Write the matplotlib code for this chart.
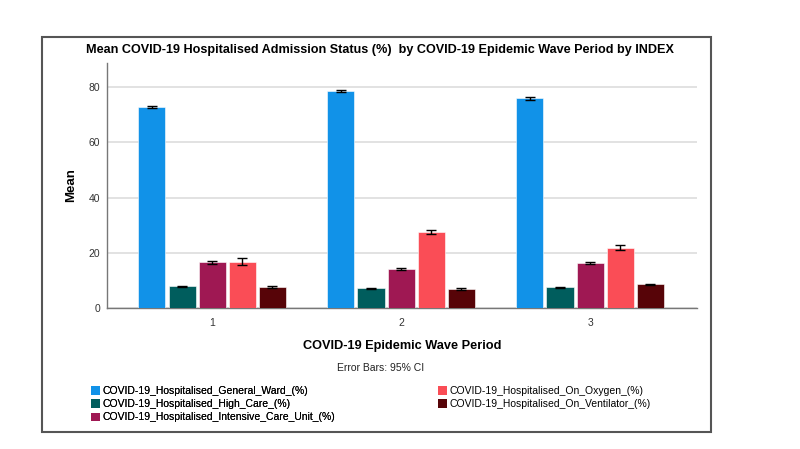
import numpy as np
import matplotlib.pyplot as plt
from matplotlib.patches import Rectangle, Patch

plt.rcParams['font.family'] = ['Liberation Sans', 'DejaVu Sans']

# Data
waves = [1, 2, 3]
series = [
    "COVID-19_Hospitalised_General_Ward_(%)",
    "COVID-19_Hospitalised_High_Care_(%)",
    "COVID-19_Hospitalised_Intensive_Care_Unit_(%)",
    "COVID-19_Hospitalised_On_Oxygen_(%)",
    "COVID-19_Hospitalised_On_Ventilator_(%)",
]
general_ward = [72.8, 78.6, 75.9]
high_care = [7.8, 7.2, 7.5]
icu = [16.5, 14.0, 16.2]
oxygen = [16.8, 27.6, 21.8]
ventilator = [7.7, 6.8, 8.6]

general_ward_ci = [0.5, 0.5, 0.5]
high_care_ci = [0.3, 0.2, 0.2]
icu_ci = [0.4, 0.4, 0.4]
oxygen_ci = [1.3, 0.8, 0.9]
ventilator_ci = [0.3, 0.3, 0.2]

colors = ["#1192e8", "#005d5d", "#9f1853", "#fa4d56", "#570408"]

means = [general_ward, high_care, icu, oxygen, ventilator]
cis = [general_ward_ci, high_care_ci, icu_ci, oxygen_ci, ventilator_ci]

fig = plt.figure(figsize=(8, 4.49), dpi=100)

# outer frame
fig.patches.append(Rectangle((42 / 800, 1 - 432 / 449), 669 / 800, 395 / 449,
                             transform=fig.transFigure, fill=False,
                             edgecolor="#555555", linewidth=1.5))

ax = fig.add_axes([107 / 800, 1 - 308 / 449, 590 / 800, 245 / 449])

x = np.array(waves, dtype=float)
pitch = 0.159
width = 0.143
for i in range(5):
    pos = x + (i - 2) * pitch
    ax.bar(pos, means[i], width=width, color=colors[i], edgecolor="white",
           linewidth=0.4, zorder=3)
    ax.errorbar(pos, means[i], yerr=cis[i], fmt="none", ecolor="black",
                elinewidth=1, capsize=3.5, capthick=1, zorder=4)

ax.set_xlim(0.444, 3.566)
ax.set_ylim(0, 88.7)
ax.set_yticks([0, 20, 40, 60, 80])
ax.set_xticks(waves)
ax.tick_params(axis="both", length=0, labelsize=7.5, colors="#333333")
ax.tick_params(axis="x", pad=7)
ax.tick_params(axis="y", pad=5)
ax.yaxis.grid(True, color="#dddddd", linewidth=1.2, zorder=0)
ax.set_axisbelow(True)
for s in ["top", "right"]:
    ax.spines[s].set_visible(False)
for s in ["left", "bottom"]:
    ax.spines[s].set_color("#777777")
    ax.spines[s].set_linewidth(1)

ax.set_ylabel("Mean", fontsize=9.5, fontweight="bold", labelpad=8)
ax.set_xlabel("COVID-19 Epidemic Wave Period", fontsize=9.2,
              fontweight="bold", labelpad=9)

fig.text(380 / 800, 1 - 50 / 449,
         "Mean COVID-19 Hospitalised Admission Status (%)  by COVID-19 Epidemic Wave Period by INDEX",
         ha="center", va="center", fontsize=9.1, fontweight="bold")
fig.text(381 / 800, 1 - 368 / 449, "Error Bars: 95% CI", ha="center",
         va="center", fontsize=7.5, color="#222222")

handles = [Patch(facecolor=c, edgecolor="none") for c in colors]
leg_kw = dict(loc="upper left", frameon=False, fontsize=7.5,
              handlelength=0.8, handleheight=0.9, handletextpad=0.3,
              labelspacing=0.3, borderpad=0)
leg1 = fig.legend(handles[:3], series[:3],
                  bbox_to_anchor=(86 / 800, 1 - 381 / 449), **leg_kw)
leg2 = fig.legend(handles[3:], series[3:],
                  bbox_to_anchor=(433 / 800, 1 - 381 / 449), **leg_kw)
fig.add_artist(leg1)

fig.savefig("out.png", dpi=100)
